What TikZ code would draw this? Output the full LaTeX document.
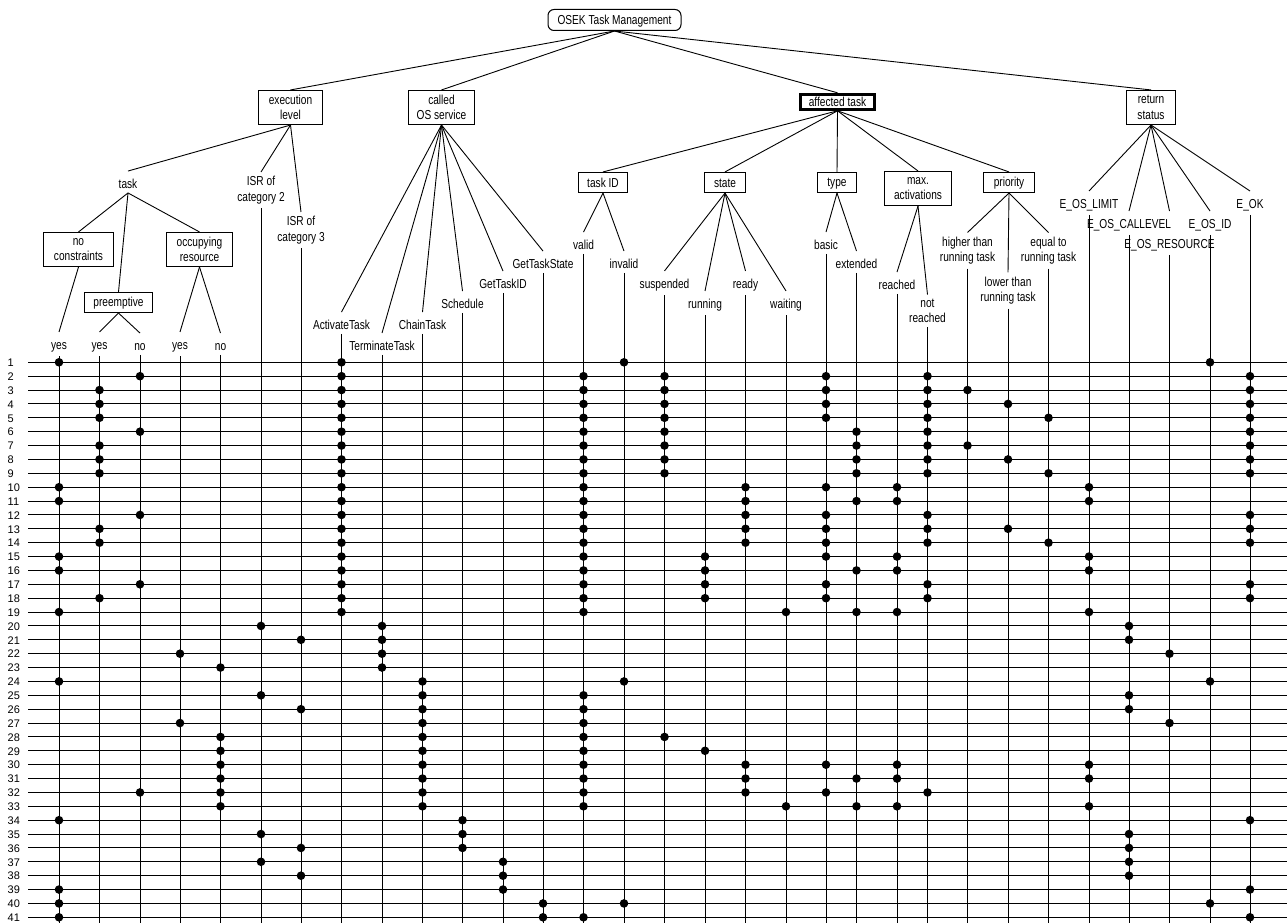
\documentclass[tikz,border=0pt]{standalone}
\usepackage{fontspec}
\setmainfont{Liberation Sans}[FakeStretch=0.78]
\newfontfamily\rowlabelfont{Liberation Sans}
\newcommand\lblstrut{\rule[-0.5pt]{0pt}{13.5pt}}
\newcommand\boxstrut{\rule[-1.7pt]{0pt}{12.7pt}}
\newcommand\boxtopstrut{\rule{0pt}{12.5pt}}
\begin{document}
\begin{tikzpicture}[x=1pt,y=-1pt,
  every node/.style={font=\fontsize{13}{15.5}\selectfont},
  lbl/.style={inner xsep=1pt, inner ysep=4pt, align=center,
    execute at begin node=\lblstrut, execute at end node=\lblstrut},
  box/.style={draw, line width=1.1pt, inner sep=0pt, align=center,
    execute at begin node=\boxstrut},
  boxtwo/.style={draw, line width=1.1pt, inner sep=0pt, align=center,
    execute at begin node=\boxtopstrut},
  conn/.style={line width=0.9pt},
  rowline/.style={line width=0.9pt},
  tdot/.style={fill=black},
  rowlbl/.style={anchor=base west, inner sep=0pt,
    font=\rowlabelfont\fontsize{11}{13}\selectfont},
]
\useasboundingbox (0,0) rectangle (1287,923);
\coordinate (bottom) at (0,923);
\coordinate (rightedge) at (1287,0);

% ---------- classification tree ----------
\node[draw, rounded corners=6pt, line width=1pt, minimum width=133pt,
  minimum height=21pt, inner sep=0pt,
  execute at begin node=\boxstrut] (root) at (614.5,20) {OSEK Task Management};

\node[boxtwo, minimum width=64pt, minimum height=34pt] (exec) at (290.5,107.5) {execution\\level};
\node[boxtwo, minimum width=66pt, minimum height=34pt] (called) at (441.5,107.5) {called\\OS service};
\node[box, line width=3pt, minimum width=74pt, minimum height=15pt] (aff) at (837.5,101.8) {affected task};
\node[boxtwo, minimum width=49pt, minimum height=34pt] (ret) at (1151,107.5) {return\\status};

\node[lbl] (tsk) at (128,182) {task};
\node[boxtwo, minimum width=70pt, minimum height=34pt] (nocon) at (78.5,249.5) {no\\constraints};
\node[boxtwo, minimum width=66pt, minimum height=34pt] (occ) at (199.5,249.5) {occupying\\resource};
\node[box, minimum width=68pt, minimum height=20pt] (pre) at (118.5,302.5) {preemptive};

\node[box, minimum width=49pt, minimum height=20pt] (tid) at (603,182.5) {task ID};
\node[box, minimum width=41pt, minimum height=20pt] (state) at (725,182.5) {state};
\node[box, minimum width=39pt, minimum height=20pt] (type) at (837,182.5) {type};
\node[boxtwo, minimum width=67pt, minimum height=34pt] (maxact) at (918,188.5) {max.\\activations};
\node[box, minimum width=51pt, minimum height=20pt] (prio) at (1009,182.5) {priority};

% leaves (one per column of the test table)
\node[lbl] (yesA) at (59,344) {yes};
\node[lbl] (yesB) at (99.5,344) {yes};
\node[lbl] (noB) at (140,344) {no};
\node[lbl] (yesC) at (180,344) {yes};
\node[lbl] (noC) at (220.5,344) {no};
\node[lbl] (isr2) at (261,190) {ISR of\\category 2};
\node[lbl] (isr3) at (301,230) {ISR of\\category 3};
\node[lbl] (act) at (341.5,323) {ActivateTask};
\node[lbl] (term) at (382,344) {TerminateTask};
\node[lbl] (chain) at (422.5,323) {ChainTask};
\node[lbl] (sched) at (462.5,302) {Schedule};
\node[lbl] (gtid) at (503,282) {GetTaskID};
\node[lbl] (gts) at (543,262) {GetTaskState};
\node[lbl] (valid) at (583.5,243) {valid};
\node[lbl] (invalid) at (624,262) {invalid};
\node[lbl] (susp) at (664.5,283) {suspended};
\node[lbl] (run) at (705,303) {running};
\node[lbl] (ready) at (745.5,283) {ready};
\node[lbl] (wait) at (786,303) {waiting};
\node[lbl] (basic) at (826,243) {basic};
\node[lbl] (ext) at (856.5,262) {extended};
\node[lbl] (reach) at (897,283) {reached};
\node[lbl] (nreach) at (927.5,311) {not\\reached};
\node[lbl] (high) at (967.5,250.5) {higher than\\running task};
\node[lbl] (low) at (1008,290.5) {lower than\\running task};
\node[lbl] (equal) at (1048.5,250.5) {equal to\\running task};
\node[lbl] (limit) at (1089,203) {E\_OS\_LIMIT};
\node[lbl] (callev) at (1129,223) {E\_OS\_CALLEVEL};
\node[lbl] (resrc) at (1169.5,243) {E\_OS\_RESOURCE};
\node[lbl] (osid) at (1210,223) {E\_OS\_ID};
\node[lbl] (eok) at (1250,203) {E\_OK};

% tree connectors
\foreach \c in {exec,called,aff,ret} \draw[conn] (root.south) -- (\c.north);
\foreach \c in {tsk,isr2,isr3} \draw[conn] (exec.south) -- (\c.north);
\foreach \c in {nocon,pre,occ} \draw[conn] (tsk.south) -- (\c.north);
\draw[conn] (nocon.south) -- (yesA.north);
\foreach \c in {yesB,noB} \draw[conn] (pre.south) -- (\c.north);
\foreach \c in {yesC,noC} \draw[conn] (occ.south) -- (\c.north);
\foreach \c in {act,term,chain,sched,gtid,gts} \draw[conn] (called.south) -- (\c.north);
\foreach \c in {tid,state,type,maxact,prio} \draw[conn] (aff.south) -- (\c.north);
\foreach \c in {valid,invalid} \draw[conn] (tid.south) -- (\c.north);
\foreach \c in {susp,run,ready,wait} \draw[conn] (state.south) -- (\c.north);
\foreach \c in {basic,ext} \draw[conn] (type.south) -- (\c.north);
\foreach \c in {reach,nreach} \draw[conn] (maxact.south) -- (\c.north);
\foreach \c in {high,low,equal} \draw[conn] (prio.south) -- (\c.north);
\foreach \c in {limit,callev,osid,eok} \draw[conn] (ret.south) -- (\c.north);
\draw[conn] (ret.south) -- (resrc.north |- callev.north);

% ---------- test case table ----------
\foreach \i in {1,...,41} {
  \pgfmathsetmacro\ry{362.3+13.875*(\i-1)}
  \coordinate (r\i) at (28,\ry);
  \draw[rowline] (r\i) -- (r\i -| rightedge);
  \node[rowlbl] (n\i) at (7.5,\ry+4.3) {\i};
}
\foreach \c in {yesA,yesB,noB,yesC,noC,isr2,isr3,act,term,chain,sched,gtid,gts,
  valid,invalid,susp,run,ready,wait,basic,ext,reach,nreach,high,low,equal,
  limit,callev,resrc,osid,eok}
  \draw[rowline] (\c.south) -- (\c.south |- bottom);

\foreach \r/\cs in {
  1/{yesA,act,invalid,osid},
  2/{noB,act,valid,susp,basic,nreach,eok},
  3/{yesB,act,valid,susp,basic,nreach,high,eok},
  4/{yesB,act,valid,susp,basic,nreach,low,eok},
  5/{yesB,act,valid,susp,basic,nreach,equal,eok},
  6/{noB,act,valid,susp,ext,nreach,eok},
  7/{yesB,act,valid,susp,ext,nreach,high,eok},
  8/{yesB,act,valid,susp,ext,nreach,low,eok},
  9/{yesB,act,valid,susp,ext,nreach,equal,eok},
  10/{yesA,act,valid,ready,basic,reach,limit},
  11/{yesA,act,valid,ready,ext,reach,limit},
  12/{noB,act,valid,ready,basic,nreach,eok},
  13/{yesB,act,valid,ready,basic,nreach,low,eok},
  14/{yesB,act,valid,ready,basic,nreach,equal,eok},
  15/{yesA,act,valid,run,basic,reach,limit},
  16/{yesA,act,valid,run,ext,reach,limit},
  17/{noB,act,valid,run,basic,nreach,eok},
  18/{yesB,act,valid,run,basic,nreach,eok},
  19/{yesA,act,valid,wait,ext,reach,limit},
  20/{isr2,term,callev},
  21/{isr3,term,callev},
  22/{yesC,term,resrc},
  23/{noC,term},
  24/{yesA,chain,invalid,osid},
  25/{isr2,chain,valid,callev},
  26/{isr3,chain,valid,callev},
  27/{yesC,chain,valid,resrc},
  28/{noC,chain,valid,susp},
  29/{noC,chain,valid,run},
  30/{noC,chain,valid,ready,basic,reach,limit},
  31/{noC,chain,valid,ready,ext,reach,limit},
  32/{noB,noC,chain,valid,ready,basic,nreach},
  33/{noC,chain,valid,wait,ext,reach,limit},
  34/{yesA,sched,eok},
  35/{isr2,sched,callev},
  36/{isr3,sched,callev},
  37/{isr2,gtid,callev},
  38/{isr3,gtid,callev},
  39/{yesA,gtid,eok},
  40/{yesA,gts,invalid,osid},
  41/{yesA,gts,valid,eok}}
{
  \foreach \c in \cs \fill[tdot] (\c.south |- r\r) circle[radius=4.3pt];
}
\end{tikzpicture}
\end{document}
